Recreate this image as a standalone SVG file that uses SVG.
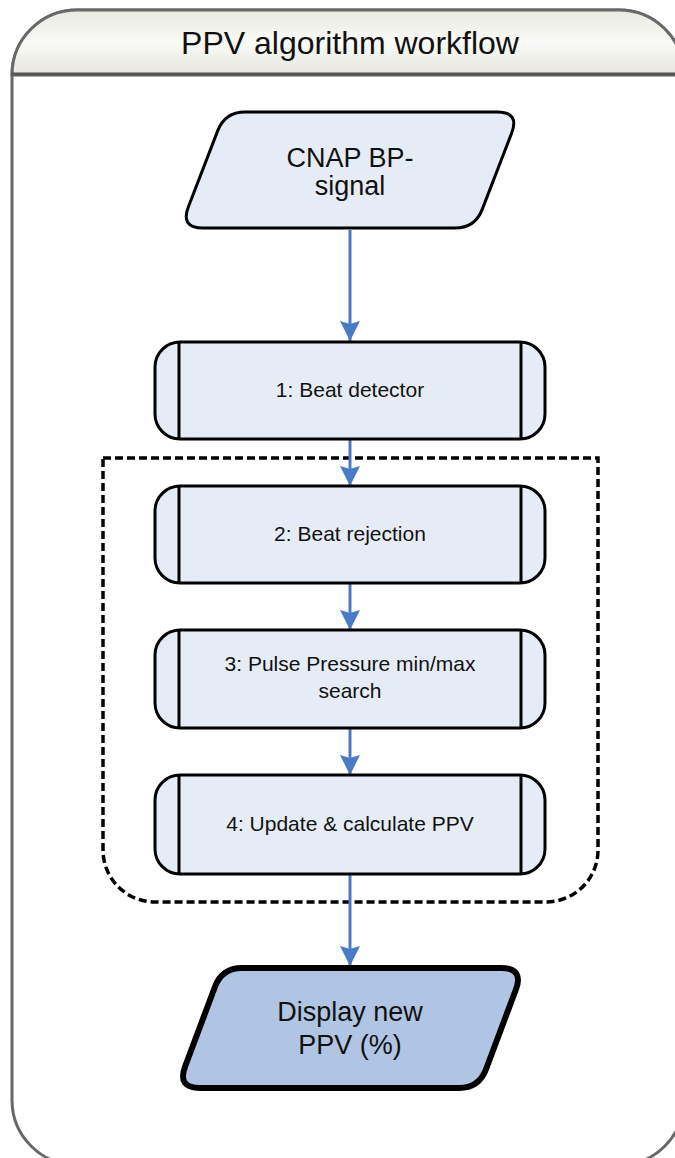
<svg xmlns="http://www.w3.org/2000/svg" width="675" height="1158" viewBox="0 0 675 1158">
<style>
  .frame { fill: #ffffff; stroke: #686868; stroke-width: 3; }
  .proc { fill: #e6ecf6; stroke: #000000; stroke-width: 3; }
  .bar { stroke: #000000; stroke-width: 3; }
  .io { fill: #e6ecf6; stroke: #000000; stroke-width: 3; }
  .out { fill: #b0c5e4; stroke: #000000; stroke-width: 6; }
  .conn { stroke: #4a7ac4; stroke-width: 3; fill: none; marker-end: url(#arrow); }
  .group { fill: none; stroke: #000000; stroke-width: 3.5; stroke-dasharray: 8 4; }
  .t { font-family: "Liberation Sans", Arial, sans-serif; fill: #111111; text-anchor: middle; }
  .big { font-size: 27px; }
  .small { font-size: 21px; }
</style>
<defs>
  <linearGradient id="hdr" x1="0" y1="0" x2="0" y2="1">
    <stop offset="0" stop-color="#e9e9e1"/>
    <stop offset="0.5" stop-color="#fafaf7"/>
    <stop offset="1" stop-color="#e6e6de"/>
  </linearGradient>
  <marker id="arrow" markerUnits="userSpaceOnUse" markerWidth="20" markerHeight="20" viewBox="0 0 20 20" refX="20" refY="10" orient="auto">
    <path d="M0,0 L20,10 L0,20 L3,10 Z" fill="#4a7ac4"/>
  </marker>
</defs>

<g id="frame">
  <rect class="frame" x="12" y="10" width="672" height="1155" rx="65" ry="65"/>
  <path d="M12,75 A65,65 0 0 1 77,10 H619 A65,65 0 0 1 684,75 Z" fill="url(#hdr)" stroke="#686868" stroke-width="3"/>
  <line x1="12" y1="74" x2="684" y2="74" stroke="#555555" stroke-width="3"/>
  <text class="t" x="350" y="54" font-size="32">PPV algorithm workflow</text>
</g>

<g id="group-box">
  <path class="group" d="M103,458 H598 V850 A52,52 0 0 1 546,902 H155 A52,52 0 0 1 103,850 Z"/>
</g>

<g id="connectors">
  <line class="conn" x1="350" y1="230" x2="350" y2="341"/>
  <line class="conn" x1="350" y1="440" x2="350" y2="486"/>
  <line class="conn" x1="350" y1="584" x2="350" y2="630"/>
  <line class="conn" x1="350" y1="729" x2="350" y2="775"/>
  <line class="conn" x1="350" y1="875" x2="350" y2="966"/>
</g>

<g id="cnap">
  <path class="io" d="M245,112 H497 Q520,112 511.5,133.5 L482.23,209.35 Q475,228 455,228 H203 Q180,228 188.5,206.5 L217.77,130.65 Q225,112 245,112 Z"/>
  <text class="t big" x="350" y="167">CNAP BP-</text>
  <text class="t big" x="350" y="195">signal</text>
</g>

<g id="step1">
  <rect class="proc" x="155" y="342" width="390" height="97" rx="25" ry="25"/>
  <line class="bar" x1="179" y1="342" x2="179" y2="439"/>
  <line class="bar" x1="521" y1="342" x2="521" y2="439"/>
  <text class="t small" x="350" y="397">1: Beat detector</text>
</g>

<g id="step2">
  <rect class="proc" x="155" y="486" width="390" height="97" rx="25" ry="25"/>
  <line class="bar" x1="179" y1="486" x2="179" y2="583"/>
  <line class="bar" x1="521" y1="486" x2="521" y2="583"/>
  <text class="t small" x="350" y="541">2: Beat rejection</text>
</g>

<g id="step3">
  <rect class="proc" x="155" y="630" width="390" height="98" rx="25" ry="25"/>
  <line class="bar" x1="179" y1="630" x2="179" y2="728"/>
  <line class="bar" x1="521" y1="630" x2="521" y2="728"/>
  <text class="t small" x="350" y="671">3: Pulse Pressure min/max</text>
  <text class="t small" x="350" y="698">search</text>
</g>

<g id="step4">
  <rect class="proc" x="155" y="775" width="390" height="99" rx="25" ry="25"/>
  <line class="bar" x1="179" y1="775" x2="179" y2="874"/>
  <line class="bar" x1="521" y1="775" x2="521" y2="874"/>
  <text class="t small" x="350" y="831">4: Update &amp; calculate PPV</text>
</g>

<g id="display">
  <path class="out" d="M242,968 H501 Q524,968 515.9,989.5 L486.02,1069.28 Q479,1088 459,1088 H200 Q177,1088 185.1,1066.5 L214.98,986.72 Q222,968 242,968 Z"/>
  <text class="t big" x="350" y="1021">Display new</text>
  <text class="t big" x="350" y="1054">PPV (%)</text>
</g>
</svg>
